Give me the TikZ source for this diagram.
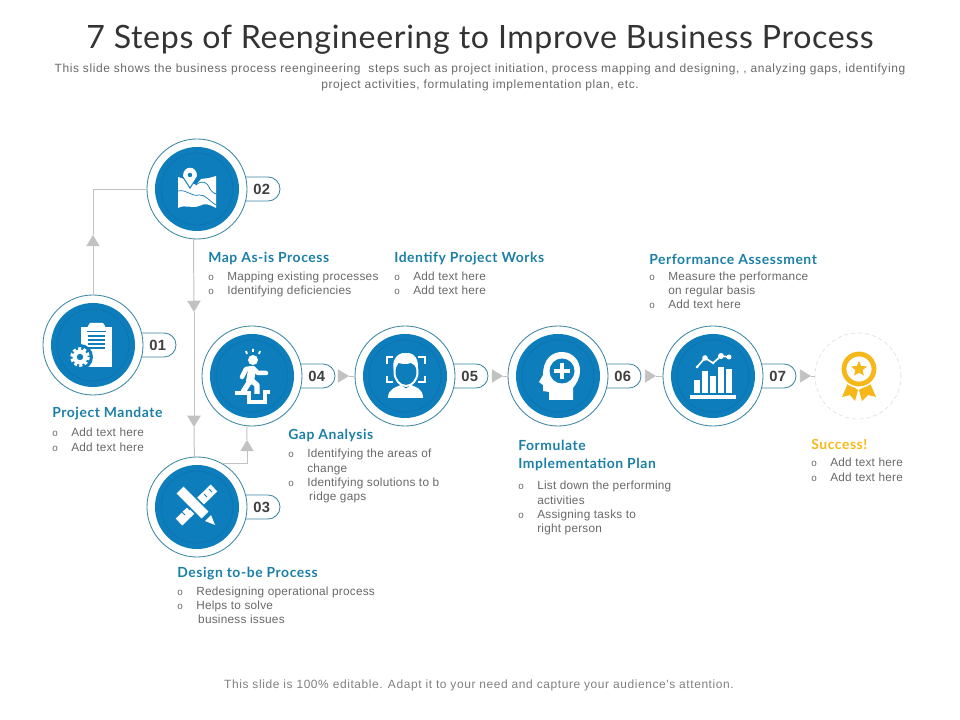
\documentclass[tikz,border=0pt]{standalone}
\usepackage{fontspec}
\setmainfont[LetterSpace=2]{Liberation Sans}
\newfontfamily\widefont[LetterSpace=5]{Liberation Sans}
\newfontfamily\titlefont[LetterSpace=2]{Lato}
\newfontfamily\headfont[LetterSpace=4]{Lato}
\usetikzlibrary{calc, arrows.meta, positioning}

\definecolor{stepblue}{HTML}{0E7DBB}
\definecolor{ringblue}{HTML}{0C75B1}
\definecolor{steprim}{HTML}{3A86A3}
\definecolor{headteal}{HTML}{1B7FA6}
\definecolor{flowgray}{HTML}{C2C2C2}
\definecolor{bodygray}{HTML}{686868}
\definecolor{prizegold}{HTML}{F5B818}

\tikzset{
    stepring/.style={circle, draw=steprim, line width=0.6pt, fill=white, minimum size=2.5cm, inner sep=0pt, outer sep=0pt,
        path picture={
            \fill[stepblue] (path picture bounding box.center) circle (42);
            \draw[ringblue, line width=0.6pt] (path picture bounding box.center) circle (36);
        }},
    steppill/.style={rectangle, draw=steprim, line width=0.6pt, fill=white, rounded corners=0.3cm,
        minimum height=0.6cm, minimum width=2cm, text width=1.5cm, inner xsep=0.25cm, inner ysep=0pt,
        align=right, text=black!75, font=\fontsize{10.5}{12}\selectfont\bfseries},
    flowline/.style={draw=flowgray, line width=0.7pt},
    flowtip/.style={flowline, -{Triangle[length=8pt, width=9.5pt, color=flowgray]}},
    headtext/.style={anchor=west, inner sep=0pt, text=headteal, font=\headfont\fontsize{9.9}{14}\selectfont\bfseries},
    listtext/.style={anchor=north west, inner sep=0pt, align=left, text=bodygray, font=\fontsize{8.4}{10.15}\selectfont},
}
% bullet with its hanging gap
\newcommand{\bulitem}{\makebox[13.5pt][l]{\fontsize{7}{8}\selectfont o}}
\newcommand{\bulgap}{\hspace*{13.5pt}}

\begin{document}
\begin{tikzpicture}[x=0.025cm, y=-0.025cm]
    \useasboundingbox (0,0) rectangle (960,720);

    % Title and footer
    \node[text=black!80, font=\titlefont\fontsize{22.85}{26}\selectfont] (title) at (480,40) {7 Steps of Reengineering to Improve Business Process};
    \node[text=bodygray, align=center, font=\widefont\fontsize{8.5}{11.3}\selectfont] (subtitle) at (480,77.5) {This slide shows the business process reengineering \ steps such as project initiation, process mapping and designing, , analyzing gaps, identifying\\project activities, formulating implementation plan, etc.};
    \node[text=black!50, font=\widefont\fontsize{8.5}{11}\selectfont] (footer) at (479,685.5) {This slide is 100\% editable. Adapt it to your need and capture your audience's attention.};

    % Pills first, the rings sit on top of them
    \node[steppill] (p1) at (136,345) {01};
    \node[steppill] (p2) at (240,189) {02};
    \node[steppill] (p3) at (240,507) {03};
    \node[steppill] (p4) at (295,376) {04};
    \node[steppill] (p5) at (448,376) {05};
    \node[steppill] (p6) at (601,376) {06};
    \node[steppill] (p7) at (756,376) {07};

    \node[stepring] (s1) at (93,345) {};
    \node[stepring] (s2) at (197,189) {};
    \node[stepring] (s3) at (197,507) {};
    \node[stepring] (s4) at (252,376) {};
    \node[stepring] (s5) at (405,376) {};
    \node[stepring] (s6) at (558,376) {};
    \node[stepring] (s7) at (713,376) {};
    \node[circle, draw=black!12, densely dashed, line width=0.5pt, minimum size=2.15cm, inner sep=0pt, outer sep=0pt] (s8) at (858,376) {};

    % Arrow stops along the connectors
    \coordinate (t12) at (93,235);
    \coordinate (t23a) at (194,312);
    \coordinate (t23b) at (194,427);
    \coordinate (t34) at (247,440);
    \coordinate (t45) at (349,376);
    \coordinate (t56) at (503,376);
    \coordinate (t67) at (656,376);
    \coordinate (t78) at (811,376);

    % Connectors
    \draw[flowtip] (s1.north) -- (t12);
    \draw[flowline] (t12) |- (s2.west);
    \draw[flowtip] (s2.266) -- (t23a);
    \draw[flowtip] (t23a) -- (t23b);
    \draw[flowline] (t23b) -- (s3.93.5);
    \draw[flowtip] (s3.60) -| (t34);
    \draw[flowline] (t34) -- (s4.264);
    \draw[flowtip, shorten <=4pt] (p4.east) -- (t45);
    \draw[flowline] (t45) -- (s5.west);
    \draw[flowtip, shorten <=4pt] (p5.east) -- (t56);
    \draw[flowline] (t56) -- (s6.west);
    \draw[flowtip, shorten <=4pt] (p6.east) -- (t67);
    \draw[flowline] (t67) -- (s7.west);
    \draw[flowtip, shorten <=4pt] (p7.east) -- (t78);
    \draw[flowline] (t78) -- (s8.west);

    % Clipboard with gear
    \begin{scope}[shift={(s1.center)}]
        \fill[white] (-12,-18) rectangle (19,22);
        \fill[white] (-5,-19) -- (-3,-22) -- (10,-22) -- (12,-19) -- (13,-13) -- (-6,-13) -- cycle;
        \draw[stepblue, line width=0.5pt] (-6,-14) -- (13,-14);
        \draw[stepblue, line width=0.8pt] (-5,-9) -- (12,-9) (-5,-5) -- (12,-5) (-5,-1) -- (12,-1) (-5,3) -- (12,3);
        \fill[stepblue] (-13,12) circle (13);
        \draw[white, line width=2pt, dash pattern=on 2.2pt off 1.6pt] (-13,12) circle (8.4);
        \fill[white] (-13,12) circle (7.5);
        \fill[stepblue] (-13,12) circle (3.2);
    \end{scope}

    % Folded map with pin
    \begin{scope}[shift={(s2.center)}]
        \fill[white] (-19,-12) -- (-10,-9) -- (-1,-4) -- (4,-10) -- (12,-11) -- (19,-13) -- (19,19) .. controls (12,15) and (8,14) .. (2,17) .. controls (-5,20) and (-12,15) .. (-19,19) -- cycle;
        \draw[stepblue, line width=0.5pt] (-19,2) .. controls (-10,0) and (-6,8) .. (2,6) .. controls (8,5) and (12,12) .. (19,16);
        \draw[stepblue, line width=0.5pt] (-1,-4) .. controls (6,-10) and (10,-6) .. (12,-2) .. controls (13,1) and (16,4) .. (19,5);
        \fill[stepblue] (-7,0) -- (-16,-14) .. controls (-16,-27) and (2,-27) .. (2,-14) -- cycle;
        \fill[white] (-7,-2) -- (-14,-13) .. controls (-14,-24) and (0,-24) .. (0,-13) -- cycle;
        \fill[stepblue] (-7,-14) circle (2.2);
    \end{scope}

    % Pencil and ruler
    \begin{scope}[shift={(s3.center)}]
        \draw[white, line width=6.8pt] (17,-19) -- (-18,15);
        \draw[stepblue, line width=0.7pt] (15,-15) -- (12,-18) (10,-10) -- (7,-13) (-7,3) -- (-10,0) (-12,8) -- (-15,5);
        \draw[stepblue, line width=9.4pt] (-13,-13) -- (10,10);
        \draw[white, line width=6.8pt] (-17,-17) -- (8,8);
        \fill[white] (14,8) -- (8,14) -- (18,18) -- cycle;
    \end{scope}

    % Person stepping over a gap
    \begin{scope}[shift={(s4.center)}]
        \fill[white] (1,-16) circle (5);
        \draw[white, line width=1.3pt] (-6,-25) -- (-5,-22) (1,-27) -- (1,-24) (8,-25) -- (7,-22);
        \draw[white, line width=5.6pt, line cap=round, line join=round] (0,-6) -- (-2,5);
        \draw[white, line width=3.2pt, line cap=round, line join=round] (14,-3) -- (6,-3) -- (1,-8) -- (-6,-7) -- (-10,1);
        \draw[white, line width=3.8pt, line join=round] (-2,5) -- (-9,16);
        \draw[white, line width=3.8pt, line join=round] (-1,4) -- (5,9) -- (5,18);
        \draw[white, line width=2.2pt, line join=miter] (-17,17) -- (-3,17) -- (-3,26) -- (13,26) -- (13,16) -- (18,16);
    \end{scope}

    % Face in a scan frame
    \begin{scope}[shift={(s5.center)}]
        \draw[white, line width=1pt] (-18,-12) -- (-18,-19) -- (-12,-19) (13,-19) -- (20,-19) -- (20,-12) (-18,0) -- (-18,6) -- (-12,6) (13,6) -- (20,6) -- (20,0);
        \fill[white] (-17,22) .. controls (-17,12) and (-8,11) .. (-4,9) -- (6,9) .. controls (10,11) and (18,12) .. (18,22) -- cycle;
        \fill[stepblue] (-5,8) -- (1,14) -- (7,8) -- (7,4) -- (-5,4) -- cycle;
        \fill[white] (-4.5,9) -- (1,12.5) -- (6.5,9) -- (6,10.5) -- (1,15) -- (-4,10.5) -- cycle;
        \draw[white, line width=1.4pt, fill=stepblue] (1,-4) ellipse (11.5 and 14);
        \fill[white] (-11,-5) .. controls (-14,-15) and (-8,-24) .. (1,-23) .. controls (10,-24) and (15,-15) .. (12,-5) .. controls (11,-10) and (9,-12) .. (6,-13) .. controls (1,-11) and (-5,-12) .. (-8,-14) .. controls (-9,-11) and (-10,-9) .. (-11,-5) -- cycle;
    \end{scope}

    % Head with a plus sign
    \begin{scope}[shift={(s6.center)}]
        \fill[white] (-9,24) -- (-9,16) -- (-15,15) -- (-15,9) -- (-19,6) -- (-15,-1) .. controls (-15,-17) and (-6,-24) .. (4,-24) .. controls (15,-24) and (22,-15) .. (22,-6) .. controls (22,3) and (18,8) .. (15,12) -- (15,24) -- cycle;
        \fill[stepblue] (4,-5) circle (12.5);
        \draw[white, line width=2.8pt] (-4,-5) -- (12,-5) (4,-13) -- (4,3);
    \end{scope}

    % Bars with a trend line
    \begin{scope}[shift={(s7.center)}]
        \fill[white] (-19,4) rectangle (-13,17);
        \fill[white] (-11,-5) rectangle (-5,17);
        \fill[white] (-3,0) rectangle (3,17);
        \fill[white] (5,-9) rectangle (11,17);
        \fill[white] (13,-7) rectangle (19,17);
        \fill[white] (-23,19) rectangle (23,23);
        \draw[white, line width=1.2pt] (-16,-9) -- (-8,-18) -- (0,-13) -- (8,-20) -- (16,-19);
        \fill[white] (-16,-9) circle (1.5) (-8,-18) circle (2.8) (0,-13) circle (1.5) (8,-20) circle (3) (16,-19) circle (2.5);
    \end{scope}

    % Award rosette
    \begin{scope}[shift={(s8.center)}]
        \fill[prizegold] (-10,7) -- (-16,21) -- (-8,19) -- (-3,25) -- (0,14) -- cycle;
        \fill[prizegold] (12,7) -- (18,21) -- (10,19) -- (4,25) -- (1,14) -- cycle;
        \fill[white] (1,-7) circle (19);
        \draw[prizegold, line width=3.4pt] (1,-7) circle (15);
        \fill[prizegold] (1,-15) -- (3.2,-10) -- (9,-9.5) -- (4.6,-5.8) -- (5.9,-0.4) -- (1,-3.2) -- (-3.9,-0.4) -- (-2.6,-5.8) -- (-7,-9.5) -- (-1.2,-10) -- cycle;
    \end{scope}

    % Step captions
    \node[headtext] (h1) at (52,414) {Project Mandate};
    \node[listtext] (l1) at (52,428) {\bulitem Add text here\\\bulitem Add text here};

    \node[headtext] (h2) at (208,259) {Map As-is Process};
    \node[listtext] (l2) at (208,271.5) {\bulitem Mapping existing processes\\\bulitem Identifying deficiencies};

    \node[headtext] (h5) at (394,259) {Identify Project Works};
    \node[listtext] (l5) at (394,271.5) {\bulitem Add text here\\\bulitem Add text here};

    \node[headtext] (h7) at (649,259) {Performance Assessment};
    \node[listtext] (l7) at (649,271.5) {\bulitem Measure the performance\\\bulgap on regular basis\\\bulitem Add text here};

    \node[headtext] (h4) at (288,435) {Gap Analysis};
    \node[listtext] (l4) at (288,449) {\bulitem Identifying the areas of\\\bulgap change\\\bulitem Identifying solutions to b\\\bulgap \,ridge gaps};

    \node[headtext] (h6a) at (518,445) {Formulate};
    \node[headtext] (h6b) at (518,464) {Implementation Plan};
    \node[listtext] (l6) at (518,481) {\bulitem List down the performing\\\bulgap activities\\\bulitem Assigning tasks to\\\bulgap right person};

    \node[headtext] (h3) at (177,574) {Design to-be Process};
    \node[listtext] (l3) at (177,586.5) {\bulitem Redesigning operational process\\\bulitem Helps to solve\\\bulgap \,business issues};

    \node[headtext, text=prizegold] (h8) at (811,444) {Success!};
    \node[listtext] (l8) at (811,458) {\bulitem Add text here\\\bulitem Add text here};
\end{tikzpicture}
\end{document}
